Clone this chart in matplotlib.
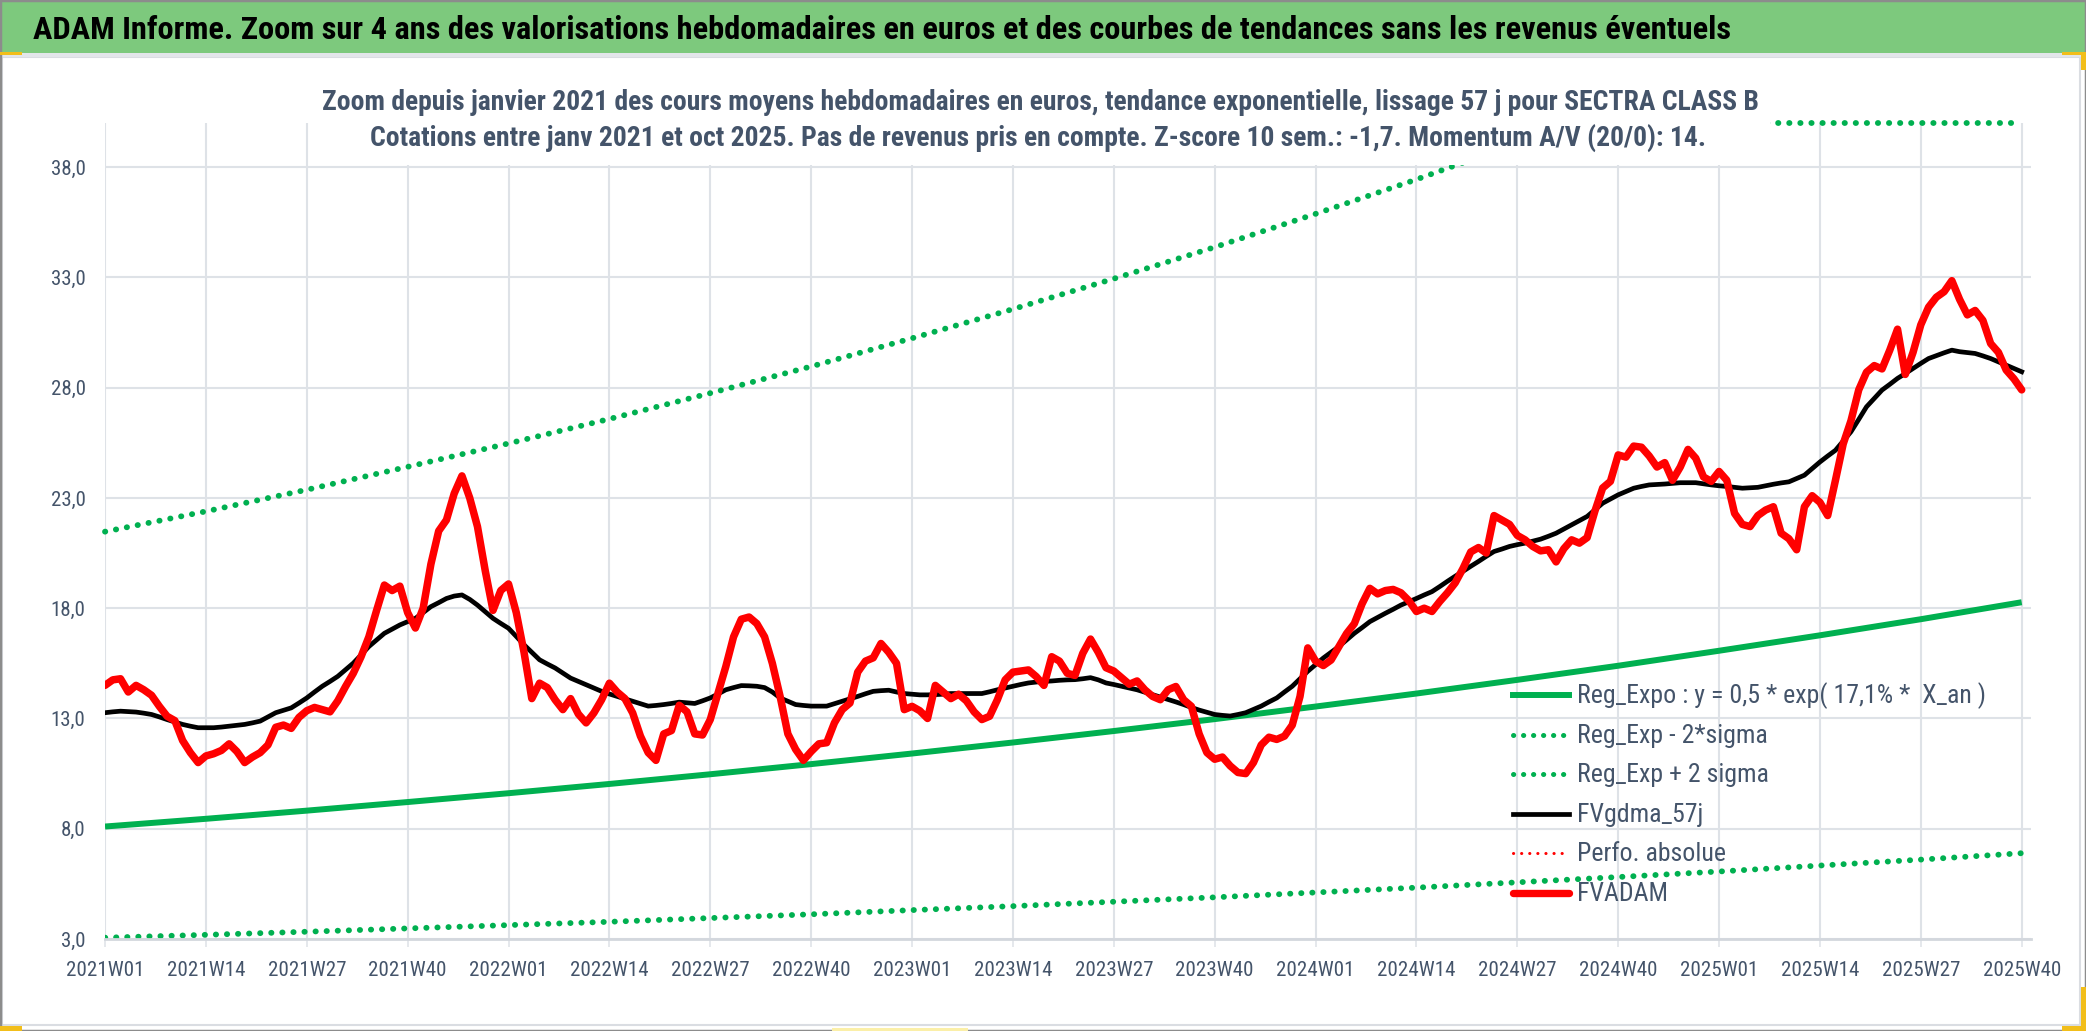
import numpy as np
import matplotlib
matplotlib.use("Agg")
import matplotlib.pyplot as plt
from matplotlib import font_manager
from matplotlib.patches import Rectangle
from matplotlib.lines import Line2D
from matplotlib.ticker import FuncFormatter

# pick a narrow-ish family (the original uses Calibri)
avail = {f.name for f in font_manager.fontManager.ttflist}
base = 'DejaVu Sans'
for cand in ['Liberation Sans Narrow', 'Roboto Condensed', 'Open Sans Condensed', 'Lato']:
    if cand in avail:
        base = cand
        break
plt.rcParams['font.family'] = [base, 'DejaVu Sans']

# --- data (weekly, 2021W01 .. 2025W40) ---
tick_labels = ['2021W01', '2021W14', '2021W27', '2021W40',
               '2022W01', '2022W14', '2022W27', '2022W40',
               '2023W01', '2023W14', '2023W27', '2023W40',
               '2024W01', '2024W14', '2024W27', '2024W40',
               '2025W01', '2025W14', '2025W27', '2025W40']

fvadam = [
    14.5, 14.75, 14.8, 14.2, 14.5, 14.3, 14.05, 13.55, 13.1, 12.9,
    12.0, 11.45, 11.0, 11.3, 11.4, 11.55, 11.85, 11.5, 11.0, 11.25,
    11.45, 11.8, 12.6, 12.7, 12.55, 13.05, 13.35, 13.5, 13.4, 13.3,
    13.8, 14.45, 15.05, 15.8, 16.7, 17.9, 19.05, 18.8, 19.0, 17.8,
    17.1, 18.0, 20.0, 21.5, 22.0, 23.2, 24.0, 23.0, 21.7, 19.7,
    17.9, 18.8, 19.1, 17.8, 16.0, 13.9, 14.6, 14.4, 13.85, 13.4,
    13.9, 13.2, 12.8, 13.25, 13.85, 14.6, 14.2, 13.9, 13.25, 12.2,
    11.45, 11.1, 12.3, 12.45, 13.6, 13.3, 12.3, 12.25, 12.95, 14.15,
    15.35, 16.7, 17.5, 17.6, 17.3, 16.7, 15.5, 14.0, 12.3, 11.6,
    11.1, 11.5, 11.85, 11.9, 12.8, 13.4, 13.7, 15.1, 15.6, 15.75,
    16.4, 16.0, 15.5, 13.4, 13.55, 13.35, 13.0, 14.5, 14.2, 13.9,
    14.1, 13.8, 13.3, 12.95, 13.1, 13.85, 14.75, 15.1, 15.15, 15.2,
    14.9, 14.5, 15.8, 15.6, 15.05, 14.95, 15.95, 16.6, 16.0, 15.3,
    15.15, 14.85, 14.55, 14.7, 14.3, 14.0, 13.85, 14.3, 14.45, 13.85,
    13.55, 12.3, 11.45, 11.15, 11.25, 10.85, 10.55, 10.5, 11.0, 11.8,
    12.15, 12.05, 12.2, 12.7, 14.0, 16.2, 15.6, 15.4, 15.65, 16.25,
    16.85, 17.3, 18.2, 18.9, 18.65, 18.8, 18.85, 18.7, 18.35, 17.85,
    18.0, 17.85, 18.3, 18.7, 19.15, 19.8, 20.55, 20.75, 20.5, 22.2,
    22.0, 21.8, 21.3, 21.1, 20.8, 20.6, 20.65, 20.1, 20.7, 21.1,
    20.95, 21.2, 22.4, 23.45, 23.75, 24.95, 24.85, 25.35, 25.3, 24.9,
    24.4, 24.6, 23.8, 24.4, 25.2, 24.8, 23.95, 23.75, 24.2, 23.8,
    22.3, 21.8, 21.7, 22.2, 22.45, 22.6, 21.4, 21.15, 20.65, 22.6,
    23.1, 22.8, 22.2, 23.8, 25.45, 26.5, 27.9, 28.7, 29.0, 28.85,
    29.7, 30.65, 28.6, 29.6, 30.85, 31.65, 32.1, 32.35, 32.85, 32.0,
    31.3, 31.5, 31.05, 30.0, 29.6, 28.8, 28.4, 27.9]

fvgdma_57j = [
    13.26, 13.30, 13.33, 13.31, 13.29, 13.24, 13.18, 13.07, 12.95, 12.84,
    12.73, 12.65, 12.58, 12.58, 12.58, 12.61, 12.65, 12.69, 12.73, 12.80,
    12.88, 13.07, 13.26, 13.37, 13.48, 13.70, 13.93, 14.20, 14.46, 14.68,
    14.91, 15.21, 15.51, 15.88, 16.26, 16.56, 16.86, 17.05, 17.24, 17.39,
    17.54, 17.80, 18.07, 18.25, 18.44, 18.55, 18.60, 18.40, 18.14, 17.84,
    17.54, 17.31, 17.09, 16.72, 16.34, 16.00, 15.66, 15.47, 15.29, 15.06,
    14.83, 14.68, 14.53, 14.38, 14.23, 14.11, 14.00, 13.89, 13.78, 13.67,
    13.56, 13.59, 13.63, 13.68, 13.74, 13.71, 13.68, 13.80, 13.93, 14.11,
    14.30, 14.40, 14.49, 14.48, 14.46, 14.40, 14.20, 13.93, 13.78, 13.63,
    13.59, 13.56, 13.56, 13.56, 13.67, 13.78, 13.89, 14.00, 14.12, 14.23,
    14.26, 14.28, 14.20, 14.13, 14.10, 14.07, 14.07, 14.08, 14.10, 14.13,
    14.13, 14.13, 14.13, 14.13, 14.21, 14.30, 14.38, 14.46, 14.54, 14.61,
    14.65, 14.68, 14.70, 14.73, 14.75, 14.76, 14.80, 14.85, 14.75, 14.61,
    14.54, 14.46, 14.38, 14.30, 14.19, 14.08, 13.97, 13.86, 13.75, 13.63,
    13.50, 13.38, 13.28, 13.18, 13.14, 13.11, 13.18, 13.26, 13.41, 13.56,
    13.75, 13.93, 14.20, 14.46, 14.80, 15.14, 15.44, 15.74, 16.00, 16.26,
    16.56, 16.86, 17.12, 17.39, 17.58, 17.77, 17.95, 18.14, 18.29, 18.44,
    18.60, 18.75, 18.98, 19.22, 19.45, 19.67, 19.90, 20.12, 20.35, 20.57,
    20.68, 20.80, 20.88, 20.95, 21.04, 21.13, 21.26, 21.40, 21.59, 21.78,
    21.97, 22.16, 22.46, 22.76, 22.95, 23.14, 23.29, 23.44, 23.52, 23.59,
    23.61, 23.63, 23.66, 23.69, 23.69, 23.69, 23.64, 23.59, 23.55, 23.52,
    23.48, 23.44, 23.46, 23.48, 23.55, 23.62, 23.68, 23.73, 23.88, 24.03,
    24.33, 24.63, 24.90, 25.16, 25.58, 26.00, 26.56, 27.13, 27.51, 27.89,
    28.15, 28.42, 28.64, 28.87, 29.10, 29.32, 29.45, 29.58, 29.70, 29.63,
    29.59, 29.55, 29.44, 29.32, 29.17, 29.02, 28.87, 28.72]

# trend curves read at each labelled week
reg_expo = [8.10, 8.45, 8.82, 9.21, 9.61, 10.03, 10.47, 10.93, 11.41, 11.91,
            12.43, 12.97, 13.54, 14.13, 14.75, 15.39, 16.07, 16.77, 17.50, 18.27]
reg_minus = [3.06, 3.19, 3.33, 3.48, 3.63, 3.78, 3.95, 4.12, 4.31, 4.49,
             4.69, 4.89, 5.11, 5.33, 5.57, 5.81, 6.06, 6.33, 6.60, 6.89]
reg_plus = [21.47, 22.39, 23.37, 24.41, 25.47, 26.58, 27.75, 28.96, 30.24, 31.56,
            32.94, 34.37, 35.88, 37.44, 39.09, 40.78, 42.59, 44.44, 46.38, 48.42]

title = ("ADAM Informe. Zoom sur 4 ans des valorisations hebdomadaires en euros "
         "et des courbes de tendances sans les revenus éventuels")
sub1 = ("Zoom depuis janvier 2021 des cours moyens hebdomadaires en euros, "
        "tendance exponentielle, lissage 57 j pour SECTRA CLASS B")
sub2 = ("Cotations entre janv 2021 et oct 2025. Pas de revenus pris en compte. "
        "Z-score 10 sem.: -1,7. Momentum A/V (20/0): 14.")
leg_labels = ['Reg_Expo : y = 0,5 * exp( 17,1% *  X_an )', 'Reg_Exp - 2*sigma',
              'Reg_Exp + 2 sigma', 'FVgdma_57j', 'Perfo. absolue', 'FVADAM']

W, H = 2086, 1031
fig = plt.figure(figsize=(W / 100, H / 100), dpi=100)
renderer = fig.canvas.get_renderer()


def fx(px):
    return px / W


def fy(py):
    return 1 - py / H


def fit(t, target):
    # scale font size so that the text is as wide as in the original
    w = t.get_window_extent(renderer).width
    t.set_fontsize(t.get_fontsize() * target / w)
    return t.get_fontsize()


def size_for(s, target, **kw):
    t = fig.text(0, 0, s, fontsize=20, **kw)
    fs = fit(t, target)
    t.remove()
    return fs


def box(x0, y0, x1, y1, **kw):
    # rectangle given in picture pixels (top-left origin)
    fig.patches.append(Rectangle((fx(x0), fy(y1)), fx(x1) - fx(x0), fy(y0) - fy(y1),
                                 transform=fig.transFigure, **kw))


ax = fig.add_axes([fx(105), fy(939), fx(2031) - fx(105), fy(123) - fy(939)])

weeks = np.arange(len(fvadam))
tick_pos = np.arange(0, len(fvadam), 13)
ymax = 40

green = '#00B050'
red = '#FF0000'
lab_c = '#44546A'
dots = (0, (0.05, 1.85))

ax.plot(tick_pos, reg_expo, color=green, lw=4.3, solid_capstyle='butt')
ax.plot(tick_pos, reg_minus, color=green, lw=4.2, linestyle=dots,
        dash_capstyle='round')
ax.plot(tick_pos, np.minimum(reg_plus, ymax), color=green, lw=4.2,
        linestyle=dots, dash_capstyle='round', clip_on=False)
ax.plot(weeks, fvgdma_57j, color='black', lw=3.4, solid_joinstyle='round')
ax.plot(weeks, fvadam, color=red, lw=5.4, solid_joinstyle='round',
        solid_capstyle='round')

ax.set_xlim(0, 248.2)
ax.set_ylim(3, ymax)
ax.set_yticks(np.arange(3, 39, 5))
ax.yaxis.set_major_formatter(FuncFormatter(lambda v, p: f"{v:.1f}".replace('.', ',')))
ax.set_xticks(tick_pos)
ax.set_xticklabels(tick_labels)

grid_c = '#DEE2E7'
ax.grid(True, color=grid_c, lw=1.5)
ax.set_axisbelow(True)
for s in ['top', 'right', 'left']:
    ax.spines[s].set_visible(False)
ax.spines['bottom'].set_color('#D3D7DD')
ax.spines['bottom'].set_linewidth(2)

xs = size_for('2021W01', 78)
ys = size_for('38,0', 35)
ax.tick_params(axis='x', length=6, width=1.1, color=grid_c, pad=10,
               labelsize=xs, labelcolor=lab_c)
ax.tick_params(axis='y', length=0, pad=14, labelsize=ys, labelcolor=lab_c)

# legend, drawn by hand to match the row spacing
styles = [dict(color=green, lw=4.3),
          dict(color=green, lw=3.6, linestyle=(0, (0.05, 1.95)), dash_capstyle='round'),
          dict(color=green, lw=3.6, linestyle=(0, (0.05, 1.95)), dash_capstyle='round'),
          dict(color='black', lw=3.4),
          dict(color=red, lw=2.2, linestyle=(0, (0.05, 2.6)), dash_capstyle='round'),
          dict(color=red, lw=5.3, solid_capstyle='round')]
leg_fs = size_for(leg_labels[0], 409)
for i, (lab, st) in enumerate(zip(leg_labels, styles)):
    yc = 695 + 39.6 * i
    fig.lines.append(Line2D([fx(1513), fx(1569)], [fy(yc), fy(yc)],
                            transform=fig.transFigure, zorder=6, **st))
    fig.text(fx(1577), fy(yc + 8), lab, ha='left', va='baseline',
             fontsize=leg_fs, color=lab_c, zorder=6)

# white box behind the subtitle (hides the upper band there)
box(310, 60, 1770, 165, facecolor='white', edgecolor='none', zorder=5)
sub_fs = (size_for(sub1, 1437, fontweight='bold') +
          size_for(sub2, 1339, fontweight='bold')) / 2
fig.text(fx(1040), fy(110), sub1, ha='center', va='baseline', fontsize=sub_fs,
         fontweight='bold', color=lab_c, zorder=6)
fig.text(fx(1038), fy(146), sub2, ha='center', va='baseline', fontsize=sub_fs,
         fontweight='bold', color=lab_c, zorder=6)

# green title band
box(0, 0, W, 53, facecolor='#7DC97D', edgecolor='none', zorder=5)
box(0, 53, W, 57, facecolor='#E3E6EA', edgecolor='none', zorder=5)
fig.text(fx(33), fy(39), title, ha='left', va='baseline',
         fontsize=size_for(title, 1695, fontweight='bold'),
         fontweight='bold', color='black', zorder=6)

# outer frame
box(2, 57, 2080, 1025, fill=False, edgecolor='#DADDE2', lw=1.5, zorder=4)
fig.patches.append(Rectangle((0, 0), 1, 1, transform=fig.transFigure, fill=False,
                             edgecolor='#8C8C8C', lw=2.5, zorder=7))

# small yellow selection marks of the spreadsheet
gold = '#F2BE1A'
box(0, 52, 22, 55, facecolor=gold, edgecolor='none', zorder=8)
box(2062, 52, W, 55, facecolor=gold, edgecolor='none', zorder=8)
box(2081, 52, W, 70, facecolor=gold, edgecolor='none', zorder=8)
box(2081, 987, W, 1031, facecolor=gold, edgecolor='none', zorder=8)
box(2062, 1026, W, 1031, facecolor=gold, edgecolor='none', zorder=8)
box(0, 1026, 22, 1031, facecolor=gold, edgecolor='none', zorder=8)
box(832, 1028, 968, 1031, facecolor='#FBEFA8', edgecolor='none', zorder=8)

fig.savefig('out.png', dpi=100)
